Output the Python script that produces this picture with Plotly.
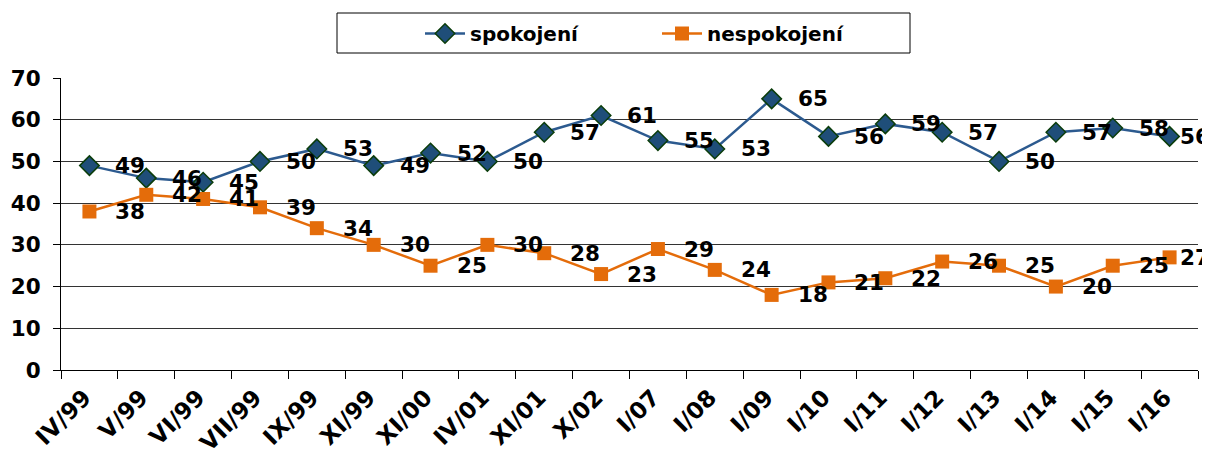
import plotly.graph_objects as go

categories = ["IV/99", "V/99", "VI/99", "VII/99", "IX/99", "XI/99", "XI/00", "IV/01",
              "XI/01", "X/02", "I/07", "I/08", "I/09", "I/10", "I/11", "I/12", "I/13",
              "I/14", "I/15", "I/16"]
spokojeni = [49, 46, 45, 50, 53, 49, 52, 50, 57, 61, 55, 53, 65, 56, 59, 57, 50, 57, 58, 56]
nespokojeni = [38, 42, 41, 39, 34, 30, 25, 30, 28, 23, 29, 24, 18, 21, 22, 26, 25, 20, 25, 27]

FONT = "DejaVu Sans"
BLUE_LINE = "#2C5A8F"
BLUE_FILL = "#1F4E79"
ORANGE = "#E46C0A"
FS = 21.5

# The page body has an 8px margin; work in page pixels and convert.
OFF = 8
FIG_W, FIG_H = 1210 - OFF, 450 - OFF
L, R, T, B = 61 - OFF, 1198 - OFF, 78 - OFF, 370 - OFF
W, H = R - L, B - T


def px(xp):
    return (xp - OFF - L) / W


def py(yp):
    return (B - (yp - OFF)) / H


fig = go.Figure()
fig.add_trace(go.Scatter(
    x=categories, y=spokojeni, name="spokojení", mode="lines+markers",
    line=dict(color=BLUE_LINE, width=2.5),
    marker=dict(symbol="diamond", size=15, color=BLUE_FILL,
                line=dict(color="#0B3D0B", width=1.5)),
))
fig.add_trace(go.Scatter(
    x=categories, y=nespokojeni, name="nespokojení", mode="lines+markers",
    line=dict(color=ORANGE, width=2.5),
    marker=dict(symbol="square", size=14, color=ORANGE),
))

n = len(categories)
annotations = []
for series in (spokojeni, nespokojeni):
    for i, (c, v) in enumerate(zip(categories, series)):
        annotations.append(dict(
            x=c, y=v, xref="x", yref="y", text=str(v), showarrow=False,
            xanchor="left", yanchor="middle",
            xshift=24 if i < n - 1 else 8,
            font=dict(family=FONT, size=FS, color="black", weight="bold"),
        ))

fig.update_layout(
    width=FIG_W, height=FIG_H,
    margin=dict(l=L, r=FIG_W - R, t=T, b=FIG_H - B, autoexpand=False),
    paper_bgcolor="white", plot_bgcolor="white",
    annotations=annotations,
    shapes=[dict(type="rect", xref="paper", yref="paper",
                 x0=px(337), x1=px(910), y0=py(53), y1=py(13),
                 line=dict(color="black", width=1), fillcolor="rgba(0,0,0,0)")],
    showlegend=True,
    legend=dict(
        orientation="h", x=px(420), xanchor="left", y=py(14), yanchor="top",
        borderwidth=0, bgcolor="rgba(0,0,0,0)",
        font=dict(family=FONT, size=20, color="black", weight="bold"),
        entrywidth=182, itemwidth=40,
    ),
    xaxis=dict(
        type="category", range=[-0.5, n - 0.5], tickson="boundaries",
        ticks="outside", ticklen=8, tickcolor="black", tickwidth=1,
        showline=True, linecolor="black", linewidth=1, showgrid=False,
        tickangle=-45, automargin=False, ticklabelstandoff=4, ticklabelshift=-5,
        tickfont=dict(family=FONT, size=23, color="black", weight="bold"),
    ),
    yaxis=dict(
        range=[0, 70], dtick=10, ticks="outside", ticklen=7, tickcolor="black",
        showline=True, linecolor="black", linewidth=1, automargin=False,
        showgrid=True, gridcolor="#333333", gridwidth=1, zeroline=False,
        ticklabelstandoff=8,
        tickfont=dict(family=FONT, size=FS, color="black", weight="bold"),
    ),
)

fig.write_html("out.html")
